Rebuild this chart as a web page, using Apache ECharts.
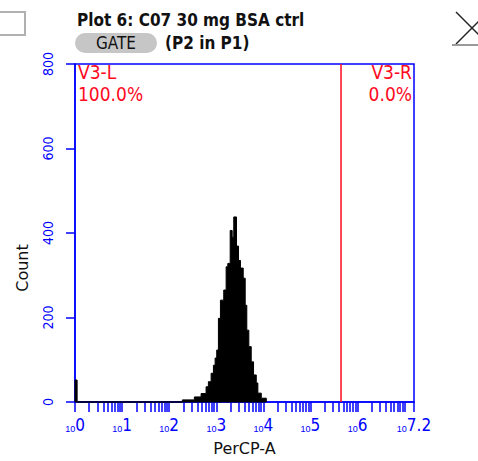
<!DOCTYPE html>
<html>
<head>
<meta charset="utf-8">
<script src="https://cdn.jsdelivr.net/npm/echarts@6/dist/echarts.min.js"></script>
<style>html,body{margin:0;padding:0;background:#fff}#c{width:478px;height:461px}</style>
</head>
<body>
<div id="c"></div>
<script>
// ---- data (x in log10 units of PerCP-A) ----
// left edge of each histogram bin and its count; last edge closes the final bin
const binEdges = [0, 0.045, 2.280, 2.535, 2.678, 2.784, 2.833, 2.891, 2.940, 2.976, 3.010, 3.046, 3.089, 3.159, 3.210, 3.245, 3.296, 3.338, 3.372, 3.430, 3.473, 3.515, 3.573, 3.615, 3.649, 3.692, 3.743, 3.792, 3.850, 3.884, 3.956, 4.063];
const binCounts = [52, 0, 5, 12, 20, 36, 48, 68, 87, 104, 123, 198, 241, 265, 320, 328, 406, 390, 438, 369, 335, 317, 293, 229, 170, 131, 95, 64, 45, 21, 9, 0];
const gateX = [5.65];
const xMajorTicks = [0, 1, 2, 3, 4, 5, 6, 7.2];
const xLabelExps = ['0', '1', '2', '3', '4', '5', '6', '7.2'];
const yTicks = [0, 200, 400, 600, 800];
const gateNames = ['V3-L', 'V3-R'];
const gatePercents = ['100.0%', '0.0%'];

const BLUE = '#0000ff';
const RED = '#ff0a1e';
const NARROW = "'Liberation Sans Narrow', 'DejaVu Sans Condensed', 'Liberation Sans', sans-serif";
const SANS = "'Liberation Sans', Arial, sans-serif";

// all tick positions (decades + log-spaced minor ticks)
const xAllTicks = [];
for (let d = 0; d < 8; d++) {
  for (let k = 1; k <= 9; k++) {
    const v = d + Math.log10(k);
    if (v <= 7.2 + 1e-9) xAllTicks.push(+v.toFixed(4));
  }
}
xAllTicks.push(7.2);

const binData = [];
for (let i = 0; i < binEdges.length - 1; i++) {
  binData.push([binEdges[i], binEdges[i + 1], binCounts[i]]);
}

const chart = echarts.init(document.getElementById('c'), null, {renderer: 'svg'});
chart.setOption({
  animation: false,
  backgroundColor: '#fff',
  grid: {left: 75, right: 64, top: 64, bottom: 59, show: true, borderColor: BLUE, borderWidth: 1.5, backgroundColor: '#fff'},
  xAxis: {
    type: 'value', min: 0, max: 7.2,
    name: 'PerCP-A', nameLocation: 'middle', nameGap: 38,
    nameTextStyle: {color: '#111', fontSize: 16, fontFamily: "'DejaVu Sans', sans-serif"},
    axisLine: {show: true, lineStyle: {color: BLUE, width: 1.5}},
    axisTick: {show: true, length: 10, lineStyle: {color: BLUE, width: 1.5}, customValues: xAllTicks},
    splitLine: {show: false},
    axisLabel: {
      show: true, margin: 14, hideOverlap: false, showMinLabel: true, showMaxLabel: true,
      customValues: xMajorTicks,
      formatter: function (v) {
        const i = xMajorTicks.findIndex(t => Math.abs(t - v) < 1e-6);
        return '{s|10}{e|' + (i >= 0 ? xLabelExps[i] : '') + '}';
      },
      rich: {
        s: {fontSize: 9, color: BLUE, fontFamily: SANS, verticalAlign: 'bottom', padding: [6, 0, 0, 0]},
        e: {fontSize: 17, color: BLUE, fontFamily: NARROW, verticalAlign: 'bottom'}
      }
    }
  },
  yAxis: {
    type: 'value', min: 0, max: 800, interval: 200,
    axisLine: {show: true, lineStyle: {color: BLUE, width: 1.5}},
    axisTick: {show: true, length: 9, lineStyle: {color: BLUE, width: 1.5}},
    splitLine: {show: false},
    axisLabel: {show: true, rotate: 90, margin: 20, color: BLUE, fontSize: 14, fontFamily: NARROW, showMinLabel: true, showMaxLabel: true}
  },
  series: [
    {
      // histogram drawn as one stepped polygon through the axis scales
      type: 'custom',
      data: binData,
      encode: {x: [0, 1], y: 2},
      renderItem: function (params, api) {
        if (params.dataIndex !== 0) return null;
        const pts = [api.coord([binData[0][0], 0])];
        for (const b of binData) {
          pts.push(api.coord([b[0], b[2]]));
          pts.push(api.coord([b[1], b[2]]));
        }
        pts.push(api.coord([binData[binData.length - 1][1], 0]));
        return {
          type: 'polygon',
          shape: {points: pts},
          style: {fill: '#000', stroke: '#000', lineWidth: 1}
        };
      },
      z: 3
    },
    {
      type: 'line', data: [[gateX[0], 0], [gateX[0], 800]], symbol: 'none',
      lineStyle: {color: RED, width: 1.5}, z: 4
    }
  ],
  graphic: [
    // top-left partial box
    {type: 'rect', shape: {x: -6, y: 12, width: 31, height: 23}, style: {fill: 'none', stroke: '#b0b0b0', lineWidth: 2}},
    // close cross at top right
    {type: 'line', shape: {x1: 456, y1: 12, x2: 488, y2: 44}, style: {stroke: '#222', lineWidth: 1.5}},
    {type: 'line', shape: {x1: 456, y1: 44, x2: 488, y2: 12}, style: {stroke: '#222', lineWidth: 1.5}},
    {type: 'line', shape: {x1: 452, y1: 45, x2: 478, y2: 45}, style: {stroke: '#9a9a9a', lineWidth: 2}},
    // title
    {type: 'text', left: 77, top: 11, style: {text: 'Plot 6: C07 30 mg BSA ctrl', fill: '#111', font: "bold 17px " + NARROW}},
    {type: 'rect', shape: {x: 75, y: 33, width: 82, height: 20, r: 10}, style: {fill: '#c6c6c6'}},
    {type: 'text', x: 116, y: 43, style: {text: 'GATE', fill: '#111', font: "17px " + NARROW, align: 'center', verticalAlign: 'middle'}},
    {type: 'text', left: 165, top: 34, style: {text: '(P2 in P1)', fill: '#111', font: "bold 17px " + NARROW}},
    // gate labels
    {type: 'text', x: 78, y: 61, style: {text: gateNames[0] + '\n' + gatePercents[0], fill: RED, fontSize: 19, fontFamily: NARROW, lineHeight: 22, align: 'left', verticalAlign: 'top'}},
    {type: 'text', x: 412, y: 61, style: {text: gateNames[1] + '\n' + gatePercents[1], fill: RED, fontSize: 19, fontFamily: NARROW, lineHeight: 22, align: 'right', verticalAlign: 'top'}},
    // y-axis name
    {type: 'text', x: 22, y: 268, rotation: Math.PI / 2, style: {text: 'Count', fill: '#111', font: "16px 'DejaVu Sans', sans-serif", align: 'center', verticalAlign: 'middle'}}
  ]
});
</script>
</body>
</html>
